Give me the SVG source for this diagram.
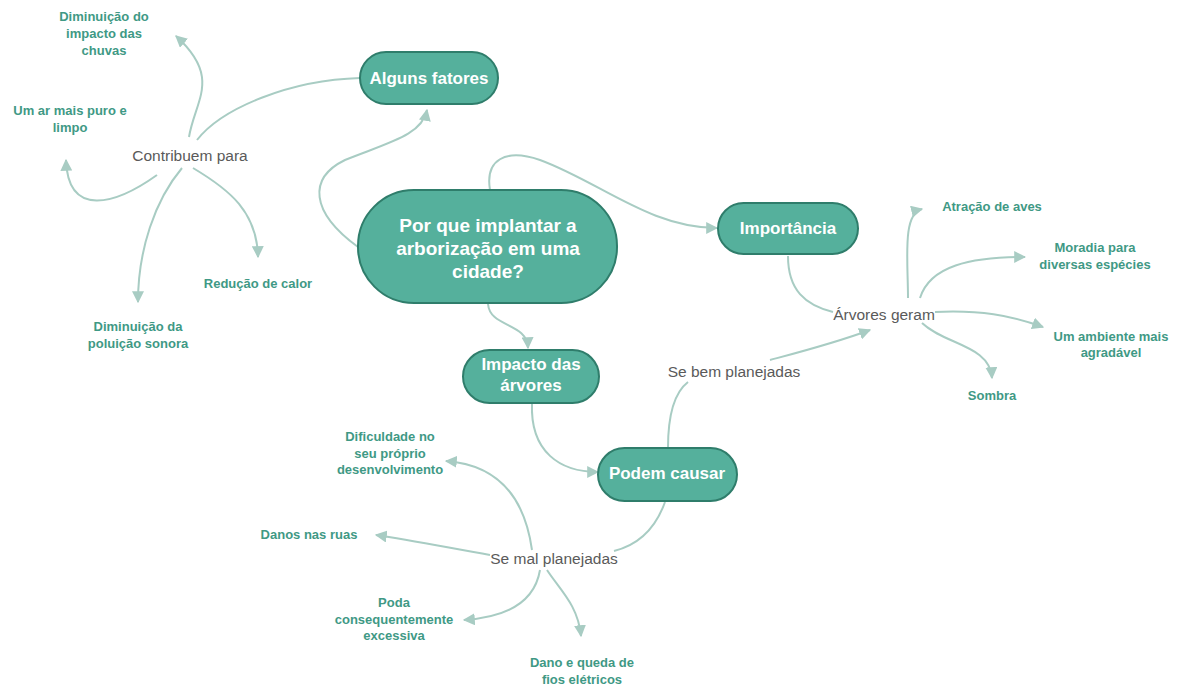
<svg xmlns="http://www.w3.org/2000/svg" width="1178" height="686" viewBox="0 0 1178 686">
<defs>
<marker id="arr" viewBox="0 0 10 10" refX="9" refY="5" markerWidth="12" markerHeight="12" markerUnits="userSpaceOnUse" orient="auto">
<path d="M0,0 L10,5 L0,10 z" fill="#a8ccc3"/>
</marker>
<style>
.n{fill:#55b09c;stroke:#2f7d6b;stroke-width:2}
.nt{font-family:"Liberation Sans",Arial,sans-serif;font-weight:bold;fill:#ffffff;text-anchor:middle}
.c{fill:none;stroke:#a8ccc3;stroke-width:2}
.a{marker-end:url(#arr)}
.lf{font-family:"Liberation Sans",Arial,sans-serif;font-weight:bold;font-size:13px;fill:#3f9985;text-anchor:middle}
.lb{font-family:"Liberation Sans",Arial,sans-serif;font-size:15.5px;fill:#5a5a5a;text-anchor:middle}
</style>
</defs>
<rect width="1178" height="686" fill="#ffffff"/>
<g id="connectors">
<path class="c a" d="M358,247 C 310,212 308,178 345,160 C 390,142 422,135 427,110"/>
<path class="c" d="M360,78 C 290,80 222,108 197,140"/>
<path class="c a" d="M189,137 C 195,100 222,78 176,36"/>
<path class="c a" d="M157,175 C 115,205 68,218 66,160"/>
<path class="c a" d="M193,168 C 230,190 257,212 258,257"/>
<path class="c a" d="M182,168 C 155,200 138,250 138,302"/>
<path class="c a" d="M490,190 C 485,160 505,148 540,160 C 600,182 650,228 717,228"/>
<path class="c a" d="M488,304 C 490,328 527,322 528,348"/>
<path class="c a" d="M532,403 C 530,452 560,472 598,472"/>
<path class="c" d="M668,448 C 668,412 675,392 688,382"/>
<path class="c a" d="M770,360 C 800,352 835,343 870,330"/>
<path class="c" d="M788,256 C 788,290 805,305 833,312"/>
<path class="c a" d="M908,298 C 908,260 902,214 922,209"/>
<path class="c a" d="M920,298 C 930,266 970,257 1025,257"/>
<path class="c a" d="M935,312 C 980,310 1010,315 1043,327"/>
<path class="c a" d="M922,323 C 945,345 990,345 992,378"/>
<path class="c" d="M665,502 C 655,530 638,545 614,551"/>
<path class="c a" d="M532,550 C 525,500 500,465 446,461"/>
<path class="c a" d="M490,555 C 450,548 410,540 376,535"/>
<path class="c a" d="M540,570 C 535,600 510,617 464,620"/>
<path class="c a" d="M547,570 C 560,590 578,605 581,636"/>
</g>
<g id="central">
<rect class="n" x="358" y="190" width="259" height="113" rx="56"/>
<text class="nt" font-size="19" x="488" y="232">Por que implantar a</text>
<text class="nt" font-size="19" x="488" y="255">arborização em uma</text>
<text class="nt" font-size="19" x="488" y="278">cidade?</text>
</g>
<g id="alguns-fatores">
<rect class="n" x="360" y="52" width="138" height="52" rx="26"/>
<text class="nt" font-size="17" x="429" y="84">Alguns fatores</text>
</g>
<g id="importancia">
<rect class="n" x="718" y="203" width="140" height="51" rx="25.5"/>
<text class="nt" font-size="17" x="788" y="234">Importância</text>
</g>
<g id="impacto">
<rect class="n" x="463" y="350" width="136" height="53" rx="26.5"/>
<text class="nt" font-size="17" x="531" y="370">Impacto das</text>
<text class="nt" font-size="17" x="531" y="391">árvores</text>
</g>
<g id="podem-causar">
<rect class="n" x="598" y="448" width="139" height="53" rx="26.5"/>
<text class="nt" font-size="17" x="667" y="479">Podem causar</text>
</g>
<g id="contribuem-para"><text class="lb" x="190" y="161">Contribuem para</text></g>
<g id="arvores-geram"><text class="lb" x="884" y="320">Árvores geram</text></g>
<g id="se-bem"><text class="lb" x="734" y="377">Se bem planejadas</text></g>
<g id="se-mal"><text class="lb" x="554" y="564">Se mal planejadas</text></g>
<g id="leaf-chuvas"><text class="lf" x="104" y="21">Diminuição do</text><text class="lf" x="104" y="38">impacto das</text><text class="lf" x="104" y="55">chuvas</text></g>
<g id="leaf-ar"><text class="lf" x="70" y="115">Um ar mais puro e</text><text class="lf" x="70" y="132">limpo</text></g>
<g id="leaf-calor"><text class="lf" x="258" y="288">Redução de calor</text></g>
<g id="leaf-sonora"><text class="lf" x="138" y="331">Diminuição da</text><text class="lf" x="138" y="348">poluição sonora</text></g>
<g id="leaf-aves"><text class="lf" x="992" y="211">Atração de aves</text></g>
<g id="leaf-moradia"><text class="lf" x="1095" y="252">Moradia para</text><text class="lf" x="1095" y="269">diversas espécies</text></g>
<g id="leaf-ambiente"><text class="lf" x="1111" y="341">Um ambiente mais</text><text class="lf" x="1111" y="357">agradável</text></g>
<g id="leaf-sombra"><text class="lf" x="992" y="400">Sombra</text></g>
<g id="leaf-dificuldade"><text class="lf" x="390" y="441">Dificuldade no</text><text class="lf" x="390" y="458">seu próprio</text><text class="lf" x="390" y="474">desenvolvimento</text></g>
<g id="leaf-danos"><text class="lf" x="309" y="539">Danos nas ruas</text></g>
<g id="leaf-poda"><text class="lf" x="394" y="607">Poda</text><text class="lf" x="394" y="624">consequentemente</text><text class="lf" x="394" y="640">excessiva</text></g>
<g id="leaf-fios"><text class="lf" x="582" y="667">Dano e queda de</text><text class="lf" x="582" y="684">fios elétricos</text></g>
</svg>
